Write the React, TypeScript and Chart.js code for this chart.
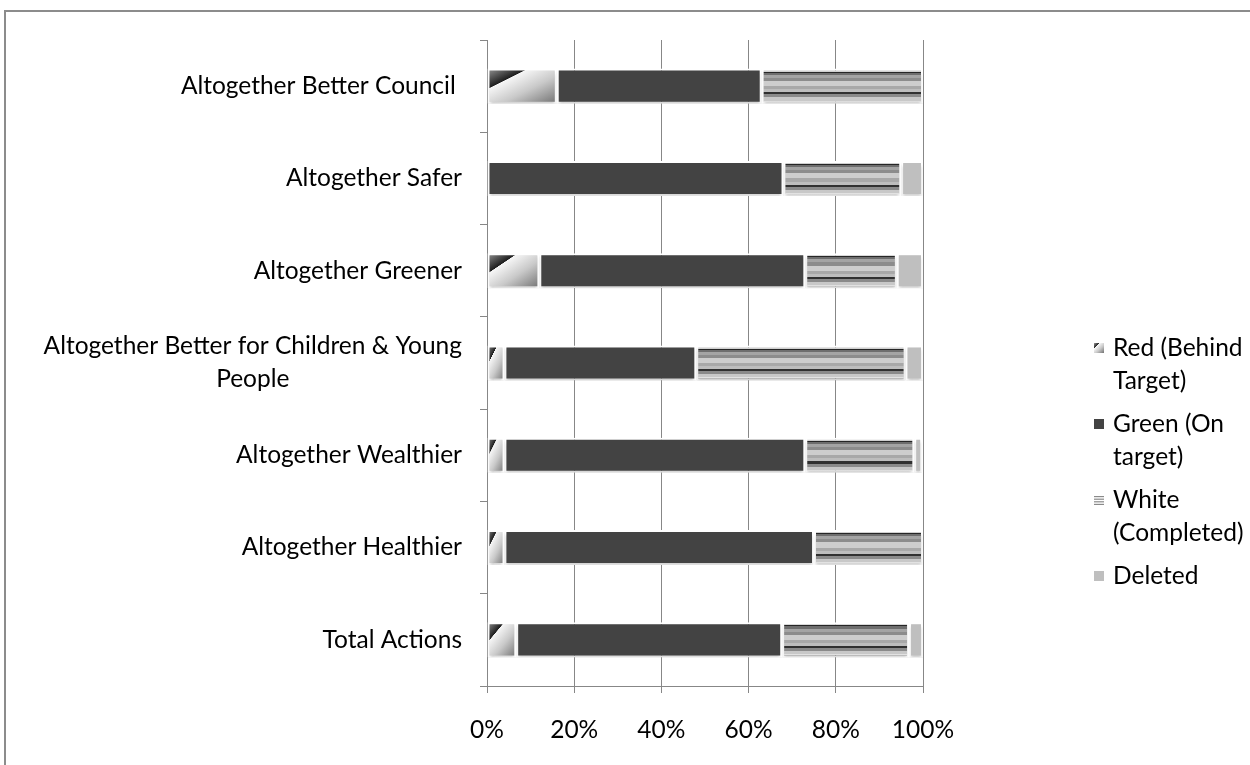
import React, { useEffect, useRef } from 'react';
import { Chart, registerables } from 'chart.js';

Chart.register(...registerables);

// ---------- data ----------
const categories: (string | string[])[] = [
  'Altogether Better Council ',
  'Altogether Safer',
  'Altogether Greener',
  ['Altogether Better for Children & Young', 'People'],
  'Altogether Wealthier',
  'Altogether Healthier',
  'Total Actions',
];
const redValues = [16, 0, 12, 4, 4, 4, 6.7];
const greenValues = [47, 68, 61, 44, 69, 71, 61];
const whiteValues = [37, 27, 21, 48, 25, 25, 29.1];
const deletedValues = [0, 5, 6, 4, 1.8, 0, 3.2];
const seriesNames = ['Red (Behind Target)', 'Green (On target)', 'White (Completed)', 'Deleted'];
const legendLines = [['Red (Behind', 'Target)'], ['Green (On', 'target)'], ['White', '(Completed)'], ['Deleted']];

// ---------- style ----------
const FONT = 'Lato, "Open Sans", sans-serif';
const FS = 24.5;
const LH = 33;
const BAR_PCT = 0.38;
const GREEN = '#434343';
const DELETED = '#bfbfbf';
const AXIS = '#878787';

const redStops: [number, string][] = [
  [0, '#9a9a9a'], [0.14, '#5e5e5e'], [0.29, '#1e1e1e'], [0.3, '#f6f6f6'], [0.6, '#c9c9c9'], [1, '#707070'],
];
// horizontal stripe bands [startPx, endPx, color] over a 34px tall bar
const whiteBands: [number, number, string][] = [
  [0, 3, '#d0d0d0'], [3, 4, '#262626'], [4, 6, '#6e6e6e'], [6, 9, '#a4a4a4'], [9, 12, '#8c8c8c'],
  [12, 17, '#cdcdcd'], [17, 20, '#a8a8a8'], [20, 23, '#bdbdbd'], [23, 25, '#303030'], [25, 28, '#8a8a8a'],
  [28, 31, '#c8c8c8'], [31, 32, '#e2e2e2'], [32, 34, '#a0a0a0'],
];

function ok(...v: number[]) {
  return v.every((n) => Number.isFinite(n));
}

function barGeom(chart: any, i: number, startVal: number, endVal: number) {
  const xs = chart.scales.x, ys = chart.scales.y;
  const band = Math.abs(ys.getPixelForValue(1) - ys.getPixelForValue(0));
  const h = band * BAR_PCT;
  const x0 = xs.getPixelForValue(startVal), x1 = xs.getPixelForValue(endVal);
  const top = ys.getPixelForValue(i) - h / 2;
  return { x0, x1, top, h };
}

function makeRedGradient(ctx: CanvasRenderingContext2D, x0: number, top: number, w: number, h: number) {
  w = Math.max(1, w);
  h = Math.max(1, h);
  const k = (2 * w * h) / (w * w + h * h);
  const g = ctx.createLinearGradient(x0, top, x0 + h * k, top + w * k);
  redStops.forEach(([o, c]) => g.addColorStop(o, c));
  return g;
}

function makeWhiteGradient(ctx: CanvasRenderingContext2D, top: number, h: number) {
  h = Math.max(1, h);
  const g = ctx.createLinearGradient(0, top, 0, top + h);
  whiteBands.forEach(([a, b, c]) => {
    g.addColorStop(a / 34, c);
    g.addColorStop(Math.min(1, b / 34 - 0.0001), c);
  });
  return g;
}

function redFill(c: any) {
  const chart = c.chart;
  if (c.type !== 'data' || !chart.scales || !chart.scales.x || !chart.scales.y) return '#666';
  const i = c.dataIndex;
  const { x0, x1, top, h } = barGeom(chart, i, 0, redValues[i]);
  if (!ok(x0, x1, top, h) || h <= 0) return '#666';
  return makeRedGradient(chart.ctx, x0, top, x1 - x0, h);
}

function whiteFill(c: any) {
  const chart = c.chart;
  if (c.type !== 'data' || !chart.scales || !chart.scales.x || !chart.scales.y) return '#aaa';
  const i = c.dataIndex;
  const { top, h } = barGeom(chart, i, 0, 1);
  if (!ok(top, h) || h <= 0) return '#aaa';
  return makeWhiteGradient(chart.ctx, top, h);
}

const customPlugin = {
  id: 'customDraw',
  beforeDraw(chart: any) {
    const ctx = chart.ctx;
    ctx.save();
    ctx.strokeStyle = '#8c8c8c';
    ctx.lineWidth = 2;
    ctx.beginPath();
    ctx.moveTo(5, 800);
    ctx.lineTo(5, 11);
    ctx.lineTo(1300, 11);
    ctx.stroke();
    ctx.restore();
  },
  beforeDatasetsDraw(chart: any) {
    const ctx = chart.ctx;
    ctx.save();
    ctx.shadowColor = 'rgba(0,0,0,0.18)';
    ctx.shadowBlur = 3;
    ctx.shadowOffsetY = 3;
  },
  afterDatasetsDraw(chart: any) {
    chart.ctx.restore();
  },
  afterDraw(chart: any) {
    const ctx = chart.ctx;
    const ys = chart.scales.y;
    const area = chart.chartArea;
    ctx.save();
    ctx.font = `${FS}px ${FONT}`;
    ctx.fillStyle = '#000';
    ctx.textBaseline = 'middle';
    ctx.textAlign = 'center';
    categories.forEach((lab, i) => {
      const lines = Array.isArray(lab) ? lab : [lab];
      const w = Math.max(...lines.map((l) => ctx.measureText(l).width));
      const cx = area.left - 25 - w / 2;
      const yc = ys.getPixelForValue(i);
      lines.forEach((l, k) => ctx.fillText(l, cx, yc + (k - (lines.length - 1) / 2) * LH));
    });

    // legend
    ctx.textAlign = 'left';
    const lx = area.right + 171;
    const tx = area.right + 190;
    let y = area.top + 308;
    legendLines.forEach((lines, s) => {
      const sw = 10;
      const sx = lx, sy = y - sw / 2;
      if (s === 0) {
        ctx.fillStyle = makeRedGradient(ctx, sx, sy, sw, sw);
        ctx.fillRect(sx, sy, sw, sw);
      } else if (s === 1) {
        ctx.fillStyle = GREEN;
        ctx.fillRect(sx, sy, sw, sw);
      } else if (s === 2) {
        ctx.fillStyle = '#ffffff';
        ctx.fillRect(sx, sy, sw, sw);
        ctx.fillStyle = '#8a8a8a';
        for (let r = 0; r < 4; r++) ctx.fillRect(sx, sy + 1 + r * 2.6, sw, 1.2);
      } else {
        ctx.fillStyle = DELETED;
        ctx.fillRect(sx, sy, sw, sw);
      }
      ctx.fillStyle = '#000';
      lines.forEach((l, k) => ctx.fillText(l, tx, y + k * LH));
      y += lines.length * LH + 10;
    });
    ctx.restore();
  },
};

export default function App() {
  const ref = useRef<HTMLCanvasElement>(null);
  useEffect(() => {
    const canvas = ref.current!;
    const common = {
      borderColor: '#ffffff',
      borderWidth: 2,
      borderSkipped: false as const,
      barPercentage: BAR_PCT,
      categoryPercentage: 1,
    };
    const chart = new Chart(canvas, {
      type: 'bar',
      data: {
        labels: categories.map((c) => (Array.isArray(c) ? c.join(' ') : c)),
        datasets: [
          { label: seriesNames[0], data: redValues, backgroundColor: redFill as any, ...common },
          { label: seriesNames[1], data: greenValues, backgroundColor: GREEN, ...common },
          { label: seriesNames[2], data: whiteValues, backgroundColor: whiteFill as any, ...common },
          { label: seriesNames[3], data: deletedValues, backgroundColor: DELETED, ...common },
        ],
      },
      options: {
        indexAxis: 'y',
        responsive: false,
        animation: false,
        devicePixelRatio: 1,
        layout: { padding: { top: 40, right: 327, left: 0, bottom: 0 } },
        plugins: { legend: { display: false }, tooltip: { enabled: false } },
        scales: {
          x: {
            stacked: true,
            min: 0,
            max: 100,
            ticks: {
              stepSize: 20,
              maxRotation: 0,
              callback: (v: any) => v + '%',
              font: { family: FONT, size: FS },
              color: '#000',
              padding: 22,
            },
            grid: { color: AXIS, tickLength: 7, lineWidth: 1 },
            border: { color: AXIS },
            afterFit: (s: any) => { s.height = 79; },
          },
          y: {
            stacked: true,
            ticks: { display: false },
            grid: { drawOnChartArea: false, tickLength: 7, color: AXIS, offset: true },
            border: { color: AXIS },
            afterFit: (s: any) => { s.width = 487; },
          },
        },
      },
      plugins: [customPlugin],
    });
    chart.update();
    return () => chart.destroy();
  }, []);
  return (
    <div style={{ position: 'absolute', left: 0, top: 0, width: 1250, height: 765, overflow: 'hidden', background: '#fff' }}>
      <canvas ref={ref} width={1250} height={765} style={{ display: 'block' }} />
    </div>
  );
}
